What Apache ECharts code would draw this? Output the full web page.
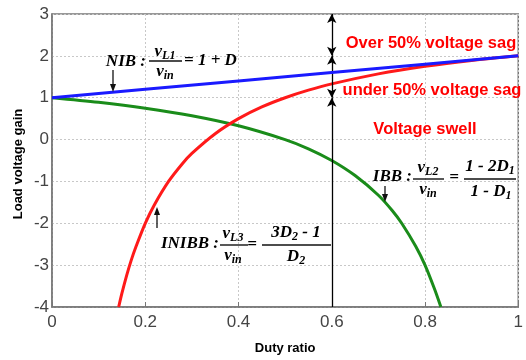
<!DOCTYPE html>
<html><head><meta charset="utf-8">
<script src="https://cdn.jsdelivr.net/npm/echarts@6/dist/echarts.min.js"></script>
<style>html,body{margin:0;padding:0;background:#fff}#c{width:526px;height:360px}</style>
</head><body><div id="c"></div>
<script>
// Data
const xTicks = [0, 0.2, 0.4, 0.6, 0.8, 1];
const yTicks = [-4, -3, -2, -1, 0, 1, 2, 3];
const nibDuty = [0, 0.2, 0.4, 0.6, 0.8, 1];
const nibGain = [1, 1.2, 1.4, 1.6, 1.8, 2];
const inibbDuty = [0.143, 0.15, 0.16, 0.17, 0.18, 0.2, 0.22, 0.25, 0.28, 0.3, 0.35, 0.4, 0.45, 0.5, 0.55, 0.6, 0.7, 0.8, 0.9, 1];
const inibbGain = [-4.0, -3.67, -3.25, -2.88, -2.56, -2.0, -1.55, -1.0, -0.57, -0.33, 0.14, 0.5, 0.78, 1.0, 1.18, 1.33, 1.57, 1.75, 1.89, 2.0];
const ibbDuty = [0, 0.1, 0.2, 0.3, 0.4, 0.5, 0.55, 0.6, 0.65, 0.7, 0.73, 0.75, 0.78, 0.8, 0.82, 0.834];
const ibbGain = [1, 0.89, 0.75, 0.57, 0.33, 0, -0.22, -0.5, -0.86, -1.33, -1.70, -2.0, -2.55, -3.0, -3.56, -4.0];
const regionLabels = ['Over 50% voltage sag', 'under 50% voltage sag', 'Voltage swell'];
const xName = 'Duty ratio';
const yName = 'Load voltage gain';
const markX = 0.6;
const markLevels = [3, 2, 1, -4];

const pair = (xs, ys) => xs.map((x, i) => [x, ys[i]]);
const chart = echarts.init(document.getElementById('c'));

const rich = {
  m: {fontFamily: 'Liberation Serif', fontStyle: 'italic', fontWeight: 'bold', fontSize: 17, color: '#111', lineHeight: 20},
  s: {fontFamily: 'Liberation Serif', fontStyle: 'italic', fontWeight: 'bold', fontSize: 12, color: '#111', lineHeight: 11, verticalAlign: 'bottom'}
};
function txt(x, y, text, align) {
  return {type: 'text', x: x, y: y, z: 100,
    style: {text: text, rich: rich, align: align || 'center', verticalAlign: 'middle'}};
}
function bar(x1, x2, y) {
  return {type: 'line', z: 100, shape: {x1: x1, y1: y, x2: x2, y2: y}, style: {stroke: '#111', lineWidth: 1.4}};
}
function arrow(x, y1, y2) {
  const dir = y2 > y1 ? 1 : -1;
  return [
    {type: 'line', z: 100, shape: {x1: x, y1: y1, x2: x, y2: y2 - dir * 6}, style: {stroke: '#111', lineWidth: 1.3}},
    {type: 'polygon', z: 100, shape: {points: [[x - 3, y2 - dir * 8], [x + 3, y2 - dir * 8], [x, y2]]}, style: {fill: '#111'}}
  ];
}
const redFont = 'bold 16.5px "Liberation Sans", Arial';

const graphics = [].concat(
  // NIB
  [txt(146, 62, '{m|NIB :}', 'right'), txt(165, 52, '{m|v}{s|L1}'), bar(149, 182, 61), txt(165, 72, '{m|v}{s|in}'),
   txt(184, 61, '{m|= 1 + D}', 'left')],
  arrow(113, 70, 92),
  // INIBB
  [txt(219, 244, '{m|INIBB :}', 'right'), txt(233, 234, '{m|v}{s|L3}'), bar(220, 248, 245), txt(233, 256, '{m|v}{s|in}'),
   txt(252, 245, '{m|=}'), txt(296, 233, '{m|3D}{s|2}{m| - 1}'), bar(262, 331, 245), txt(296, 257, '{m|D}{s|2}')],
  arrow(157, 228, 207),
  // IBB
  [txt(412, 177, '{m|IBB :}', 'right'), txt(428, 168, '{m|v}{s|L2}'), bar(413, 444, 179), txt(428, 190, '{m|v}{s|in}'),
   txt(454, 178, '{m|=}'), txt(490, 167, '{m|1 - 2D}{s|1}'), bar(464, 516, 179), txt(491, 192, '{m|1 - D}{s|1}')],
  arrow(385, 186, 202),
  // region labels
  [
    {type: 'text', x: 431, y: 43, z: 100, style: {text: regionLabels[0], fill: '#ff0000', font: redFont, align: 'center', verticalAlign: 'middle'}},
    {type: 'text', x: 432, y: 90, z: 100, style: {text: regionLabels[1], fill: '#ff0000', font: redFont, align: 'center', verticalAlign: 'middle'}},
    {type: 'text', x: 425, y: 129, z: 100, style: {text: regionLabels[2], fill: '#ff0000', font: redFont, align: 'center', verticalAlign: 'middle'}},
    {type: 'text', x: 18, y: 164, rotation: Math.PI / 2, z: 100,
     style: {text: yName, fill: '#000', font: 'bold 13px "Liberation Sans", Arial', align: 'center', verticalAlign: 'middle'}}
  ]
);

const axisLbl = {color: '#444', fontSize: 17, fontFamily: 'Liberation Sans'};
const gridLine = {show: true, lineStyle: {color: '#c8c8c8', type: [2, 2], width: 1}};
const frame = {show: true, onZero: false, lineStyle: {color: '#777', width: 1.5}};

chart.setOption({
  animation: false,
  grid: {left: 52, right: 2, top: 14, bottom: 46,
         show: true, borderColor: '#777', borderWidth: 1.5, backgroundColor: 'transparent'},
  xAxis: {
    type: 'value', min: xTicks[0], max: xTicks[xTicks.length - 1], interval: 0.2,
    axisLine: frame, axisTick: {show: true, inside: true, length: 5, lineStyle: {color: '#777'}},
    axisLabel: Object.assign({margin: 7, formatter: v => String(Math.round(v * 10) / 10)}, axisLbl),
    splitLine: gridLine,
    name: xName, nameLocation: 'middle', nameGap: 35,
    nameTextStyle: {fontWeight: 'bold', fontSize: 13, color: '#000', fontFamily: 'Liberation Sans'}
  },
  yAxis: {
    type: 'value', min: yTicks[0], max: yTicks[yTicks.length - 1], interval: 1,
    axisLine: frame, axisTick: {show: false},
    axisLabel: Object.assign({margin: 3}, axisLbl),
    splitLine: gridLine
  },
  series: [
    {type: 'line', name: 'IBB', data: pair(ibbDuty, ibbGain), smooth: 0.3, showSymbol: false,
     lineStyle: {color: '#1a8c1a', width: 3}, z: 3},
    {type: 'line', name: 'INIBB', data: pair(inibbDuty, inibbGain), smooth: 0.3, showSymbol: false,
     lineStyle: {color: '#ff1a1a', width: 3}, z: 4},
    {type: 'line', name: 'NIB', data: pair(nibDuty, nibGain), showSymbol: false,
     lineStyle: {color: '#1a1aff', width: 3}, z: 5},
    {type: 'line', data: [], markLine: {
      silent: true, label: {show: false}, symbolSize: [7, 9],
      lineStyle: {color: '#000', width: 1.3, type: 'solid'},
      data: [
        [{coord: [markX, markLevels[0]], symbol: 'arrow'}, {coord: [markX, markLevels[1]], symbol: 'arrow'}],
        [{coord: [markX, markLevels[1]], symbol: 'arrow'}, {coord: [markX, markLevels[2]], symbol: 'arrow'}],
        [{coord: [markX, markLevels[3]], symbol: 'none'}, {coord: [markX, markLevels[2]], symbol: 'arrow'}]
      ]
    }, z: 6}
  ],
  graphic: graphics
});
</script></body></html>
